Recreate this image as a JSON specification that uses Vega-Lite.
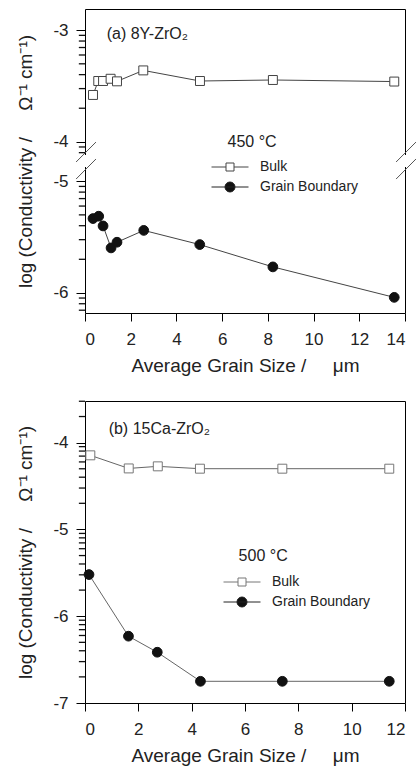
{
  "$schema": "https://vega.github.io/schema/vega-lite/v6.json",
  "padding": {"top": 8, "left": 15, "right": 5, "bottom": 0},
  "spacing": 24,
  "datasets": {
    "pts": [
      {"panel": "a", "series": "Bulk", "size": 0.35, "cond": -3.58},
      {"panel": "a", "series": "Bulk", "size": 0.58, "cond": -3.455},
      {"panel": "a", "series": "Bulk", "size": 0.79, "cond": -3.455},
      {"panel": "a", "series": "Bulk", "size": 1.12, "cond": -3.435},
      {"panel": "a", "series": "Bulk", "size": 1.40, "cond": -3.458},
      {"panel": "a", "series": "Bulk", "size": 2.55, "cond": -3.36},
      {"panel": "a", "series": "Bulk", "size": 5.03, "cond": -3.455},
      {"panel": "a", "series": "Bulk", "size": 8.22, "cond": -3.446},
      {"panel": "a", "series": "Bulk", "size": 13.53, "cond": -3.46},
      {"panel": "a", "series": "Grain Boundary", "size": 0.35, "cond": -5.334},
      {"panel": "a", "series": "Grain Boundary", "size": 0.6, "cond": -5.313},
      {"panel": "a", "series": "Grain Boundary", "size": 0.79, "cond": -5.40},
      {"panel": "a", "series": "Grain Boundary", "size": 1.14, "cond": -5.597},
      {"panel": "a", "series": "Grain Boundary", "size": 1.40, "cond": -5.546},
      {"panel": "a", "series": "Grain Boundary", "size": 2.57, "cond": -5.44},
      {"panel": "a", "series": "Grain Boundary", "size": 5.02, "cond": -5.567},
      {"panel": "a", "series": "Grain Boundary", "size": 8.22, "cond": -5.767},
      {"panel": "a", "series": "Grain Boundary", "size": 13.53, "cond": -6.04},
      {"panel": "b", "series": "Bulk", "size": 0.2, "cond": -4.146},
      {"panel": "b", "series": "Bulk", "size": 1.64, "cond": -4.297},
      {"panel": "b", "series": "Bulk", "size": 2.73, "cond": -4.273},
      {"panel": "b", "series": "Bulk", "size": 4.31, "cond": -4.30},
      {"panel": "b", "series": "Bulk", "size": 7.40, "cond": -4.30},
      {"panel": "b", "series": "Bulk", "size": 11.41, "cond": -4.30},
      {"panel": "b", "series": "Grain Boundary", "size": 0.15, "cond": -5.52},
      {"panel": "b", "series": "Grain Boundary", "size": 1.63, "cond": -6.23},
      {"panel": "b", "series": "Grain Boundary", "size": 2.71, "cond": -6.415},
      {"panel": "b", "series": "Grain Boundary", "size": 4.33, "cond": -6.75},
      {"panel": "b", "series": "Grain Boundary", "size": 7.40, "cond": -6.75},
      {"panel": "b", "series": "Grain Boundary", "size": 11.41, "cond": -6.75}
    ],
    "notes": [
      {"panel": "a", "kind": "label", "size": 0.95, "cond": -3.03, "text": "(a) 8Y-ZrO₂"},
      {"panel": "a", "kind": "temp", "size": 7.31, "cond": -4.0, "text": "450 °C"},
      {"panel": "b", "kind": "label", "size": 0.886, "cond": -3.847, "text": "(b) 15Ca-ZrO₂"},
      {"panel": "b", "kind": "temp", "size": 6.68, "cond": -5.31, "text": "500 °C"}
    ],
    "minor": [
      {"panel": "a", "size": 0, "cond": -3.046}, {"panel": "a", "size": 0, "cond": -3.097},
      {"panel": "a", "size": 0, "cond": -3.155}, {"panel": "a", "size": 0, "cond": -3.222},
      {"panel": "a", "size": 0, "cond": -3.301}, {"panel": "a", "size": 0, "cond": -3.398},
      {"panel": "a", "size": 0, "cond": -3.523}, {"panel": "a", "size": 0, "cond": -3.699},
      {"panel": "a", "size": 0, "cond": -4.046}, {"panel": "a", "size": 0, "cond": -4.097},
      {"panel": "a", "size": 0, "cond": -5.046}, {"panel": "a", "size": 0, "cond": -5.097},
      {"panel": "a", "size": 0, "cond": -5.155}, {"panel": "a", "size": 0, "cond": -5.222},
      {"panel": "a", "size": 0, "cond": -5.301}, {"panel": "a", "size": 0, "cond": -5.398},
      {"panel": "a", "size": 0, "cond": -5.523}, {"panel": "a", "size": 0, "cond": -5.699},
      {"panel": "a", "size": 0, "cond": -6.046}, {"panel": "a", "size": 0, "cond": -6.097},
      {"panel": "a", "size": 0, "cond": -6.155},
      {"panel": "b", "size": 0, "cond": -3.523}, {"panel": "b", "size": 0, "cond": -3.699},
      {"panel": "b", "size": 0, "cond": -4.046}, {"panel": "b", "size": 0, "cond": -4.097},
      {"panel": "b", "size": 0, "cond": -4.155}, {"panel": "b", "size": 0, "cond": -4.222},
      {"panel": "b", "size": 0, "cond": -4.301}, {"panel": "b", "size": 0, "cond": -4.398},
      {"panel": "b", "size": 0, "cond": -4.523}, {"panel": "b", "size": 0, "cond": -4.699},
      {"panel": "b", "size": 0, "cond": -5.046}, {"panel": "b", "size": 0, "cond": -5.097},
      {"panel": "b", "size": 0, "cond": -5.155}, {"panel": "b", "size": 0, "cond": -5.222},
      {"panel": "b", "size": 0, "cond": -5.301}, {"panel": "b", "size": 0, "cond": -5.398},
      {"panel": "b", "size": 0, "cond": -5.523}, {"panel": "b", "size": 0, "cond": -5.699},
      {"panel": "b", "size": 0, "cond": -6.046}, {"panel": "b", "size": 0, "cond": -6.097},
      {"panel": "b", "size": 0, "cond": -6.155}, {"panel": "b", "size": 0, "cond": -6.222},
      {"panel": "b", "size": 0, "cond": -6.301}, {"panel": "b", "size": 0, "cond": -6.398},
      {"panel": "b", "size": 0, "cond": -6.523}, {"panel": "b", "size": 0, "cond": -6.699}
    ],
    "erase": [
      {"size": -0.35, "size2": 0.35, "cond": -4.2, "cond2": -4.79},
      {"size": 13.65, "size2": 14.35, "cond": -4.2, "cond2": -4.79}
    ],
    "brk": [
      {"size": -0.39, "cond": -4.545, "size2": 0.48, "cond2": -4.002},
      {"size": -0.39, "cond": -4.98, "size2": 0.48, "cond2": -4.396},
      {"size": 13.61, "cond": -4.545, "size2": 14.48, "cond2": -4.002},
      {"size": 13.61, "cond": -4.98, "size2": 14.48, "cond2": -4.396}
    ]
  },
  "vconcat": [
    {
      "width": 320,
      "height": 304,
      "encoding": {
        "x": {
          "field": "size", "type": "quantitative",
          "scale": {"domain": [0, 14], "nice": false, "zero": false},
          "axis": {"title": "Average Grain Size /\u00a0\u00a0\u00a0\u00a0\u00a0μm", "values": [0, 2, 4, 6, 8, 10, 12, 14], "tickSize": 8, "labelPadding": 10, "titlePadding": 9}
        },
        "y": {
          "field": "cond", "type": "quantitative",
          "scale": {"domain": [-6.18, -4.89, -4.1, -2.81], "range": [304, 160, 144, 0], "nice": false, "zero": false},
          "axis": {
            "title": "log (Conductivity /\u00a0\u00a0\u00a0\u00a0\u00a0Ω⁻¹ cm⁻¹)",
            "values": [-3, -4, -5, -6],
            "tickSize": 9,
            "labelExpr": "toString(datum.value)",
            "labelPadding": 8, "minExtent": 38, "maxExtent": 38, "titlePadding": 12
          }
        }
      },
      "layer": [
        {
          "data": {"name": "erase"},
          "mark": {"type": "rect", "fill": "white"},
          "encoding": {"x2": {"field": "size2"}, "y2": {"field": "cond2"}}
        },
        {
          "data": {"name": "brk"},
          "mark": {"type": "rule", "stroke": "#555", "strokeWidth": 1},
          "encoding": {"x2": {"field": "size2"}, "y2": {"field": "cond2"}}
        },
        {
          "data": {"name": "minor"},
          "transform": [{"filter": "datum.panel === 'a'"}],
          "mark": {"type": "rule", "color": "#111", "strokeWidth": 1.3, "opacity": 1},
          "encoding": {"x2": {"datum": -0.27}}
        },
        {
          "data": {"name": "pts"},
          "transform": [{"filter": "datum.panel === 'a'"}],
          "mark": {"type": "line", "stroke": "#444", "strokeWidth": 1},
          "encoding": {"detail": {"field": "series"}}
        },
        {
          "data": {"name": "pts"},
          "transform": [{"filter": "datum.panel === 'a' && datum.series === 'Bulk'"}],
          "mark": {"type": "point", "shape": "square", "filled": true, "fill": "white", "stroke": "#444", "strokeWidth": 1, "size": 80, "opacity": 1}
        },
        {
          "data": {"name": "pts"},
          "transform": [{"filter": "datum.panel === 'a' && datum.series === 'Grain Boundary'"}],
          "mark": {"type": "point", "shape": "circle", "filled": true, "fill": "#111", "stroke": "#111", "strokeWidth": 1, "size": 95, "opacity": 1}
        },
        {
          "data": {"name": "pts"},
          "transform": [{"filter": "false"}],
          "mark": {"type": "point", "strokeWidth": 1},
          "encoding": {
            "shape": {"field": "series", "type": "nominal",
              "scale": {"domain": ["Bulk", "Grain Boundary"], "range": ["M-3.7,0H-0.8M0.8,0H3.7M-0.8,-0.8H0.8V0.8H-0.8Z", "M-3.7,0H3.7M1,0A1,1 0 1,1 -1,0A1,1 0 1,1 1,0Z"]},
              "legend": {"orient": "none", "legendX": 138, "legendY": 151, "title": null, "symbolOpacity": 1}},
            "fill": {"field": "series", "type": "nominal",
              "scale": {"domain": ["Bulk", "Grain Boundary"], "range": ["white", "#111"]},
              "legend": {"orient": "none", "legendX": 138, "legendY": 151, "title": null, "symbolOpacity": 1}},
            "stroke": {"field": "series", "type": "nominal",
              "scale": {"domain": ["Bulk", "Grain Boundary"], "range": ["#444", "#222"]},
              "legend": {"orient": "none", "legendX": 138, "legendY": 151, "title": null, "symbolOpacity": 1}}
          }
        },
        {
          "data": {"name": "notes"},
          "transform": [{"filter": "datum.panel === 'a' && datum.kind === 'label'"}],
          "mark": {"type": "text", "align": "left", "baseline": "middle", "fontSize": 16, "font": "Liberation Sans", "fill": "#222"},
          "encoding": {"text": {"field": "text"}}
        },
        {
          "data": {"name": "notes"},
          "transform": [{"filter": "datum.panel === 'a' && datum.kind === 'temp'"}],
          "mark": {"type": "text", "align": "center", "baseline": "middle", "fontSize": 16, "font": "Liberation Sans", "fill": "#222"},
          "encoding": {"text": {"field": "text"}}
        }
      ]
    },
    {
      "width": 320,
      "height": 302,
      "encoding": {
        "x": {
          "field": "size", "type": "quantitative",
          "scale": {"domain": [0, 12], "nice": false, "zero": false},
          "axis": {"title": "Average Grain Size /\u00a0\u00a0\u00a0\u00a0\u00a0μm", "values": [0, 2, 4, 6, 8, 10, 12], "tickSize": 8, "labelPadding": 10, "titlePadding": 9}
        },
        "y": {
          "field": "cond", "type": "quantitative",
          "scale": {"domain": [-7, -3.52], "nice": false, "zero": false},
          "axis": {
            "title": "log (Conductivity /\u00a0\u00a0\u00a0\u00a0\u00a0Ω⁻¹ cm⁻¹)",
            "values": [-4, -5, -6, -7],
            "tickSize": 9,
            "labelExpr": "toString(datum.value)",
            "labelPadding": 8, "minExtent": 38, "maxExtent": 38, "titlePadding": 12
          }
        }
      },
      "layer": [
        {
          "data": {"name": "minor"},
          "transform": [{"filter": "datum.panel === 'b'"}],
          "mark": {"type": "rule", "color": "#111", "strokeWidth": 1.3, "opacity": 1},
          "encoding": {"x2": {"datum": -0.23}}
        },
        {
          "data": {"name": "pts"},
          "transform": [{"filter": "datum.panel === 'b'"}],
          "mark": {"type": "line", "stroke": "#666", "strokeWidth": 1},
          "encoding": {"detail": {"field": "series"}}
        },
        {
          "data": {"name": "pts"},
          "transform": [{"filter": "datum.panel === 'b' && datum.series === 'Bulk'"}],
          "mark": {"type": "point", "shape": "square", "filled": true, "fill": "white", "stroke": "#777", "strokeWidth": 1, "size": 80, "opacity": 1}
        },
        {
          "data": {"name": "pts"},
          "transform": [{"filter": "datum.panel === 'b' && datum.series === 'Grain Boundary'"}],
          "mark": {"type": "point", "shape": "circle", "filled": true, "fill": "#111", "stroke": "#111", "strokeWidth": 1, "size": 95, "opacity": 1}
        },
        {
          "data": {"name": "pts"},
          "transform": [{"filter": "false"}],
          "mark": {"type": "point", "strokeWidth": 1},
          "encoding": {
            "shape": {"field": "series", "type": "nominal",
              "scale": {"domain": ["Bulk", "Grain Boundary"], "range": ["M-3.7,0H-0.8M0.8,0H3.7M-0.8,-0.8H0.8V0.8H-0.8Z", "M-3.7,0H3.7M1,0A1,1 0 1,1 -1,0A1,1 0 1,1 1,0Z"]},
              "legend": {"orient": "none", "legendX": 150, "legendY": 174, "title": null, "symbolOpacity": 1}},
            "fill": {"field": "series", "type": "nominal",
              "scale": {"domain": ["Bulk", "Grain Boundary"], "range": ["white", "#111"]},
              "legend": {"orient": "none", "legendX": 150, "legendY": 174, "title": null, "symbolOpacity": 1}},
            "stroke": {"field": "series", "type": "nominal",
              "scale": {"domain": ["Bulk", "Grain Boundary"], "range": ["#777", "#222"]},
              "legend": {"orient": "none", "legendX": 150, "legendY": 174, "title": null, "symbolOpacity": 1}}
          }
        },
        {
          "data": {"name": "notes"},
          "transform": [{"filter": "datum.panel === 'b' && datum.kind === 'label'"}],
          "mark": {"type": "text", "align": "left", "baseline": "middle", "fontSize": 16, "font": "Liberation Sans", "fill": "#222"},
          "encoding": {"text": {"field": "text"}}
        },
        {
          "data": {"name": "notes"},
          "transform": [{"filter": "datum.panel === 'b' && datum.kind === 'temp'"}],
          "mark": {"type": "text", "align": "center", "baseline": "middle", "fontSize": 16, "font": "Liberation Sans", "fill": "#222"},
          "encoding": {"text": {"field": "text"}}
        }
      ]
    }
  ],
  "resolve": {
    "scale": {"shape": "independent", "fill": "independent", "stroke": "independent", "x": "independent", "y": "independent"},
    "legend": {"shape": "independent", "fill": "independent", "stroke": "independent"}
  },
  "config": {
    "font": "Liberation Sans",
    "view": {"stroke": "#000", "strokeWidth": 1},
    "axis": {
      "labelFont": "Liberation Sans", "labelFontSize": 17, "labelColor": "#222",
      "titleFont": "Liberation Sans", "titleFontSize": 19, "titleFontWeight": "normal", "titleColor": "#222",
      "tickColor": "#000", "domain": false, "grid": false
    },
    "legend": {
      "labelFont": "Liberation Sans", "labelFontSize": 14, "labelColor": "#222",
      "symbolStrokeWidth": 1, "symbolSize": 100,
      "labelOffset": 23, "rowPadding": 6, "padding": 0
    }
  }
}
